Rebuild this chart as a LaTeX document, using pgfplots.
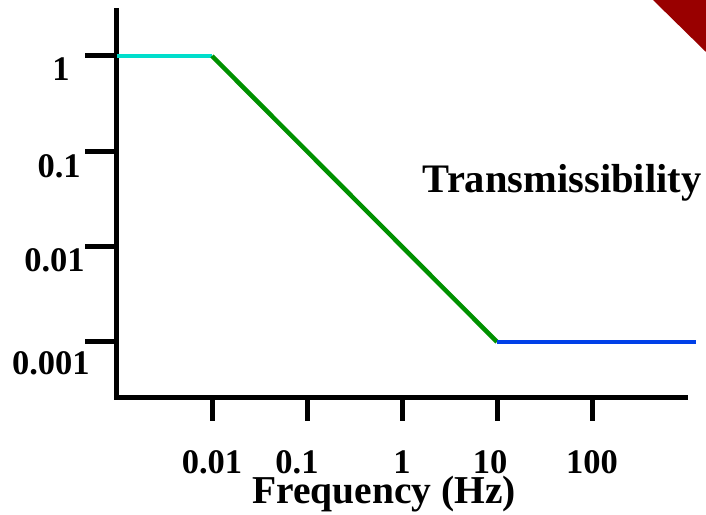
\documentclass[border=0pt]{standalone}
\usepackage{fontspec}
\setmainfont{Liberation Serif}
\usepackage{pgfplots}
\pgfplotsset{compat=1.18}
\definecolor{cyanline}{RGB}{0,222,204}
\definecolor{greenline}{RGB}{0,145,0}
\definecolor{blueline}{RGB}{0,64,232}
\definecolor{darkred}{RGB}{153,0,0}
\newcommand\xs[2]{\makebox[0pt]{\hspace*{#1}\hspace*{#1}#2}}
\newcommand\ys[3]{\makebox[0pt][r]{\raisebox{#2}{#3}\hspace*{#1}}}
\begin{document}
\begin{tikzpicture}[x=1pt,y=1pt]
\useasboundingbox (0,0) rectangle (706,514);
\fill[darkred] (653,514) -- (706,514) -- (706,462) -- cycle;
\begin{axis}[
  at={(117pt,117pt)}, anchor=south west,
  scale only axis, width=568.5pt, height=386.5pt,
  xmode=log, ymode=log,
  xmin=0.001, xmax=963.8,
  ymin=2.642e-4, ymax=3.002,
  axis x line*=bottom, axis y line*=left,
  axis line style={-, line width=5pt, line cap=rect, black},
  xtick={0.01,0.1,1,10,100},
  ytick={0.001,0.01,0.1,1},
  xminorticks=false, yminorticks=false,
  tick align=outside,
  major tick style={line width=5pt, black},
  xtick style={/pgfplots/major tick length=24pt},
  ytick style={/pgfplots/major tick length=32pt},
  ticklabel style={font=\fontsize{34.5}{40}\selectfont\bfseries},
  xticklabel style={anchor=base, inner sep=0pt, yshift=-72pt},
  yticklabel style={anchor=base, inner sep=0pt, yshift=-25pt},
  xticklabels={\xs{0pt}{0.01},\xs{-10pt}{0.1},\xs{0pt}{1},\xs{-7pt}{10},\xs{0pt}{100}},
  yticklabels={\ys{23pt}{-8pt}{0.001},\ys{28pt}{0pt}{0.01},\ys{32pt}{-1pt}{0.1},\ys{43pt}{0pt}{1}},
  xlabel={Frequency (Hz)},
  xlabel style={at={(axis description cs:0.4697,-0.2743)}, anchor=base, inner sep=0pt, font=\fontsize{39.5}{44}\selectfont\bfseries},
  ylabel={Transmissibility},
  ylabel style={at={(axis description cs:0.783,0.5304)}, rotate=-90, anchor=base, inner sep=0pt, font=\fontsize{40.5}{44}\selectfont\bfseries},
  clip=false,
]
\addplot[cyanline, line width=4.5pt] coordinates {(0.001,1) (0.01,1)};
\addplot[greenline, line width=4.5pt] coordinates {(0.01,1) (10,0.001)};
\addplot[blueline, line width=4.5pt] coordinates {(10,0.001) (1245,0.001)};
\end{axis}
\end{tikzpicture}
\end{document}
